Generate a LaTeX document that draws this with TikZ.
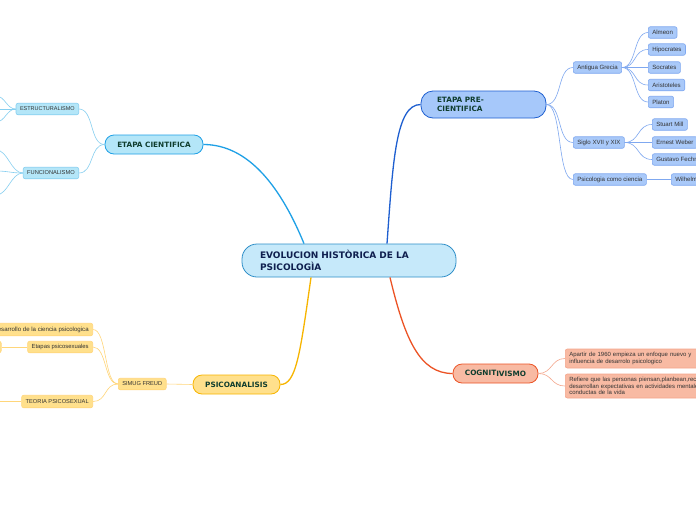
\documentclass[tikz,border=0pt]{standalone}
\usepackage{fontspec}
\setmainfont{Liberation Sans}
\newfontfamily\headfont{DejaVu Sans}
\usetikzlibrary{positioning}

\definecolor{rootfill}{HTML}{C6E9FA}
\definecolor{rootline}{HTML}{2F8FC8}
\definecolor{roottext}{HTML}{0F1F4F}
\definecolor{stagetext}{HTML}{0F3D2E}
\definecolor{leaftext}{HTML}{333333}
% pre-cientifica (blue)
\definecolor{prefill}{HTML}{A6C8FA}
\definecolor{preline}{HTML}{1E5FD0}
\definecolor{preleaf}{HTML}{A9C9F9}
\definecolor{preedge}{HTML}{7FA8F0}
% cientifica (cyan)
\definecolor{cienfill}{HTML}{B4E6F8}
\definecolor{cienline}{HTML}{1EA0E6}
\definecolor{cienedge}{HTML}{86CFF0}
% psicoanalisis (yellow)
\definecolor{psifill}{HTML}{FFE08C}
\definecolor{psiline}{HTML}{F7B500}
\definecolor{psiedge}{HTML}{FFD67A}
% cognitivismo (salmon)
\definecolor{cogfill}{HTML}{F8BAA3}
\definecolor{cogline}{HTML}{EC5325}
\definecolor{cogedge}{HTML}{F4A68C}

\tikzset{
  stagebox/.style={draw, line width=0.8pt, rounded corners=9pt, minimum height=19pt,
    inner xsep=4pt, inner ysep=0pt, align=center, text=stagetext,
    font=\headfont\bfseries\fontsize{7.3}{9}\selectfont},
  leaf/.style={draw, line width=0.6pt, rounded corners=2pt, minimum height=11.5pt,
    inner xsep=4pt, inner ysep=0pt, text=leaftext, font=\fontsize{6.1}{7}\selectfont},
  capsleaf/.style={leaf, font=\fontsize{5.7}{7}\selectfont},
  branch/.style={line width=1.3pt},
  twig/.style={line width=0.6pt},
}

\begin{document}
\begin{tikzpicture}[x=1pt, y=-1pt]
\path[use as bounding box, fill=white] (0,0) rectangle (696,520);

% Central topic
\node[draw=rootline, fill=rootfill, line width=0.8pt, rounded corners=15pt,
  text width=178pt, align=left, inner xsep=18pt, inner ysep=0pt, minimum height=33pt,
  text=roottext, font=\headfont\bfseries\fontsize{9}{12}\selectfont]
  (root) at (349,260.5) {EVOLUCION HISTÒRICA DE LA\\PSICOLOGÌA};

% Main stages
\node[stagebox, fill=prefill, draw=preline, text width=93pt, inner xsep=16pt,
  minimum height=27pt, rounded corners=12pt, align=left] (pre) at (483.5,104.5) {ETAPA PRE-\\CIENTIFICA};
\node[stagebox, fill=cienfill, draw=cienline, minimum width=98pt] (cien) at (154,144.5) {ETAPA CIENTIFICA};
\node[stagebox, fill=psifill, draw=psiline, minimum width=87pt] (psi) at (236.5,384.5) {PSICOANALISIS};
\node[stagebox, fill=cogfill, draw=cogline, minimum width=85pt] (cog) at (495.5,373.5) {COGNIT\raisebox{-1.3pt}{IVISMO}};

% Central -> stages
\draw[branch, preline] ([xshift=38pt]root.north) .. controls (393,160) and (396,104.5) .. (pre.west);
\draw[branch, cienline] ([xshift=-45pt]root.north) .. controls (282,190) and (250,144.5) .. (cien.east);
\draw[branch, psiline] ([xshift=-38pt]root.south) .. controls (300,355) and (296,384.5) .. (psi.east);
\draw[branch, cogline] ([xshift=41pt]root.south) .. controls (405,340) and (420,373.5) .. (cog.west);

% Pre-cientifica
\node[leaf, fill=preleaf, draw=preedge, anchor=west] (grecia) at (573,67.5) {Antigua Grecia};
\node[leaf, fill=preleaf, draw=preedge, anchor=west] (siglo) at (573,142.5) {Siglo XVII y XIX};
\node[leaf, fill=preleaf, draw=preedge, anchor=west] (ciencia) at (573,179.5) {Psicologia como ciencia};
\foreach \n in {grecia,siglo,ciencia}
  \draw[twig, preedge] (pre.east) .. controls +(16,0) and +(-16,0) .. (\n.west);

\node[leaf, fill=preleaf, draw=preedge, anchor=west] (almeon) at (648,32.5) {Almeon};
\node[leaf, fill=preleaf, draw=preedge, anchor=west] (hipocrates) at (648,49.5) {Hipocrates};
\node[leaf, fill=preleaf, draw=preedge, anchor=west] (socrates) at (648,67.5) {Socrates};
\node[leaf, fill=preleaf, draw=preedge, anchor=west] (aristoteles) at (648,85) {Aristoteles};
\node[leaf, fill=preleaf, draw=preedge, anchor=west] (platon) at (648,102) {Platon};
\foreach \n in {almeon,hipocrates,socrates,aristoteles,platon}
  \draw[twig, preedge] (grecia.east) .. controls +(15,0) and +(-15,0) .. (\n.west);

\node[leaf, fill=preleaf, draw=preedge, anchor=west] (mill) at (652,124.5) {Stuart Mill};
\node[leaf, fill=preleaf, draw=preedge, anchor=west] (weber) at (652,142.5) {Ernest Weber};
\node[leaf, fill=preleaf, draw=preedge, anchor=west] (fechner) at (652,159.5) {Gustavo Fechner};
\foreach \n in {mill,weber,fechner}
  \draw[twig, preedge] (siglo.east) .. controls +(15,0) and +(-15,0) .. (\n.west);

\node[leaf, fill=preleaf, draw=preedge, anchor=west] (wundt) at (671,179.5) {Wilhelm Wundt};
\draw[twig, preedge] (ciencia.east) -- (wundt.west);

% Cientifica
\node[capsleaf, fill=cienfill, draw=cienedge, anchor=east, font=\fontsize{5.5}{7}\selectfont] (estr) at (79,109) {ESTRUCTURALISMO};
\node[capsleaf, fill=cienfill, draw=cienedge, anchor=east] (func) at (79,173) {FUNCIONALISMO};
\foreach \n in {estr,func}
  \draw[twig, cienedge] (cien.west) .. controls +(-15,0) and +(15,0) .. (\n.east);

\coordinate (estrA) at (-4,96);
\coordinate (estrB) at (-4,109);
\coordinate (estrC) at (-4,122);
\coordinate (funcA) at (-4,150);
\coordinate (funcB) at (-4,171);
\coordinate (funcC) at (-4,195);
\foreach \c in {estrA,estrB,estrC}
  \draw[twig, cienedge] (estr.west) .. controls +(-9,0) and +(9,0) .. (\c);
\foreach \c in {funcA,funcB,funcC}
  \draw[twig, cienedge] (func.west) .. controls +(-12,0) and +(12,0) .. (\c);

% Psicoanalisis
\node[capsleaf, fill=psifill, draw=psiedge, anchor=west] (freud) at (118,384) {SIMUG FREUD};
\draw[twig, psiedge] (psi.west) -- (freud.east);

\node[leaf, fill=psifill, draw=psiedge, anchor=east, minimum height=12.5pt] (desarrollo) at (93,329.5) {Desarrollo de la ciencia psicologica};
\node[leaf, fill=psifill, draw=psiedge, anchor=east, font=\fontsize{5.9}{7}\selectfont] (etapas) at (93,347) {Etapas psicosexuales};
\node[capsleaf, fill=psifill, draw=psiedge, anchor=east, minimum height=12.5pt] (teoria) at (93,401.5) {TEORIA PSICOSEXUAL};
\foreach \n in {desarrollo,etapas,teoria}
  \draw[twig, psiedge] (freud.west) .. controls +(-14,0) and +(14,0) .. (\n.east);

\node[leaf, fill=psifill, draw=psiedge, anchor=east, minimum width=30pt] (fase) at (1.5,347) {};
\coordinate (teoriaA) at (-4,401.5);
\draw[twig, psiedge] (etapas.west) -- (fase.east);
\draw[twig, psiedge] (teoria.west) -- (teoriaA);

% Cognitivismo
\node[leaf, fill=cogfill, draw=cogedge, anchor=west, text width=160pt, align=left,
  minimum height=19pt, font=\fontsize{6}{6.7}\selectfont] (enfoque) at (565,358.5)
  {Apartir de 1960 empieza un enfoque nuevo y\\influencia de desarrolo psicologico};
\node[leaf, fill=cogfill, draw=cogedge, anchor=west, text width=160pt, align=left,
  minimum height=24pt, font=\fontsize{6}{6.7}\selectfont] (refiere) at (565,386)
  {Refiere que las personas piensan,planbean,rec\\desarrollan expectativas en actividades mentales\\conductas de la vida};
\foreach \n in {enfoque,refiere}
  \draw[twig, cogedge] (cog.east) .. controls +(14,0) and +(-14,0) .. (\n.west);
\end{tikzpicture}
\end{document}
